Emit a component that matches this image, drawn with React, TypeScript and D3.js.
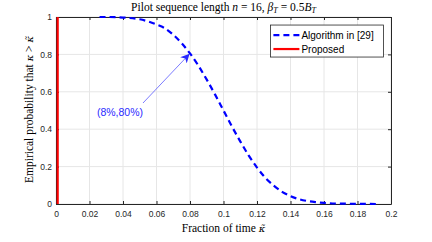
import React, { useEffect, useRef } from 'react';
import * as d3 from 'd3';

// values
const algoX = [0.026, 0.03, 0.04, 0.05, 0.06, 0.065, 0.07, 0.075, 0.08, 0.085, 0.09, 0.095, 0.1, 0.105, 0.11, 0.115, 0.12, 0.125, 0.13, 0.135, 0.14, 0.145, 0.15, 0.155, 0.16, 0.17, 0.18, 0.192];
const algoY = [1, 1, 0.997, 0.988, 0.96, 0.94, 0.905, 0.86, 0.805, 0.74, 0.665, 0.585, 0.5, 0.415, 0.335, 0.26, 0.195, 0.14, 0.098, 0.065, 0.042, 0.026, 0.016, 0.01, 0.006, 0.002, 0.001, 0];
const propX = [0.001, 0.001];
const propY = [0, 1];
const xTicks = [0, 0.02, 0.04, 0.06, 0.08, 0.1, 0.12, 0.14, 0.16, 0.18, 0.2];
const yTicks = [0, 0.2, 0.4, 0.6, 0.8, 1];
const legendLabels = ['Algorithm in [29]', 'Proposed'];
const annotPoint = [0.08, 0.805];
const annotText = '(8%,80%)';

const W = 432;
const H = 242;
const serif = '"Liberation Serif", "DejaVu Serif", serif';
const mathFont = '"DejaVu Serif", serif';
const sans = '"Liberation Sans", Arial, sans-serif';

const App = () => {
  const ref = useRef<SVGSVGElement | null>(null);

  useEffect(() => {
    if (!ref.current) return;
    const svg = d3.select(ref.current);
    svg.selectAll('*').remove();

    const margin = { top: 17, right: 41, bottom: 38, left: 56 };
    const width = W - margin.left - margin.right;
    const height = H - margin.top - margin.bottom;

    const x = d3.scaleLinear().domain([0, 0.2]).range([0, width]);
    const y = d3.scaleLinear().domain([0, 1]).range([height, 0]);

    const defs = svg.append('defs');
    defs.append('marker')
      .attr('id', 'arrow')
      .attr('viewBox', '0 0 10 10')
      .attr('refX', 9)
      .attr('refY', 5)
      .attr('markerWidth', 9)
      .attr('markerHeight', 9)
      .attr('markerUnits', 'userSpaceOnUse')
      .attr('orient', 'auto')
      .append('path')
      .attr('d', 'M0,0 L10,5 L0,10 L3,5 Z')
      .attr('fill', '#2a2aff');

    const g = svg.append('g').attr('transform', `translate(${margin.left},${margin.top})`);

    // grid
    g.append('g').selectAll('line').data(xTicks).join('line')
      .attr('x1', d => x(d)).attr('x2', d => x(d))
      .attr('y1', 0).attr('y2', height)
      .attr('stroke', '#e6e6e6').attr('stroke-width', 1);
    g.append('g').selectAll('line').data(yTicks).join('line')
      .attr('x1', 0).attr('x2', width)
      .attr('y1', d => y(d)).attr('y2', d => y(d))
      .attr('stroke', '#e6e6e6').attr('stroke-width', 1);

    // axes (box with inward ticks)
    const axisColor = '#262626';
    const tl = 3;
    const xAxis = d3.axisBottom(x).tickValues(xTicks).tickSizeInner(-tl).tickSizeOuter(0)
      .tickFormat(d => String(d));
    const yAxis = d3.axisLeft(y).tickValues(yTicks).tickSizeInner(-tl).tickSizeOuter(0)
      .tickFormat(d => String(d));
    const gx = g.append('g').attr('transform', `translate(0,${height})`).call(xAxis);
    const gy = g.append('g').call(yAxis);
    g.append('g').call(d3.axisTop(x).tickValues(xTicks).tickSizeInner(-tl).tickSizeOuter(0).tickFormat(() => ''));
    g.append('g').attr('transform', `translate(${width},0)`)
      .call(d3.axisRight(y).tickValues(yTicks).tickSizeInner(-tl).tickSizeOuter(0).tickFormat(() => ''));
    g.selectAll('.domain').attr('stroke', axisColor).attr('stroke-width', 1);
    g.selectAll('.tick line').attr('stroke', axisColor);
    gx.selectAll('text').attr('font-family', sans).attr('font-size', 8.5).attr('fill', axisColor).attr('dy', '1.15em');
    gy.selectAll('text').attr('font-family', sans).attr('font-size', 8.5).attr('fill', axisColor).attr('x', -4);

    // series
    const algo = algoX.map((v, i) => [v, algoY[i]] as [number, number]);
    const prop = propX.map((v, i) => [v, propY[i]] as [number, number]);
    const ln = d3.line<[number, number]>().x(d => x(d[0])).y(d => y(d[1])).curve(d3.curveMonotoneX);

    g.append('path').datum(algo)
      .attr('fill', 'none').attr('stroke', '#0000ff').attr('stroke-width', 2.2)
      .attr('stroke-dasharray', '6,4')
      .attr('d', ln);
    g.append('path').datum(prop)
      .attr('fill', 'none').attr('stroke', '#ff0000').attr('stroke-width', 2.2)
      .attr('d', d3.line<[number, number]>().x(d => x(d[0])).y(d => y(d[1])));

    // annotation
    const ax = x(annotPoint[0]);
    const ay = y(annotPoint[1]);
    g.append('line')
      .attr('x1', 87).attr('y1', 86)
      .attr('x2', ax - 1).attr('y2', ay + 1)
      .attr('stroke', '#5a5aff').attr('stroke-width', 0.8)
      .attr('marker-end', 'url(#arrow)');
    g.append('text')
      .attr('x', 64).attr('y', 99)
      .attr('text-anchor', 'middle')
      .attr('font-family', sans).attr('font-size', 10.5)
      .attr('fill', '#2a2aff')
      .text(annotText);

    // legend
    const lg = g.append('g').attr('transform', `translate(${x(0.128)},${y(0.957)})`);
    lg.append('rect').attr('width', 113).attr('height', 32)
      .attr('fill', '#fff').attr('stroke', axisColor).attr('stroke-width', 0.8);
    const colors = ['#0000ff', '#ff0000'];
    legendLabels.forEach((lab, i) => {
      const yy = 10 + i * 14;
      lg.append('line')
        .attr('x1', 3).attr('x2', 29).attr('y1', yy).attr('y2', yy)
        .attr('stroke', colors[i]).attr('stroke-width', 2.2)
        .attr('stroke-dasharray', i === 0 ? '6,4' : null);
      lg.append('text')
        .attr('x', 31).attr('y', yy + 3.6)
        .attr('font-family', sans).attr('font-size', 10)
        .attr('fill', '#000')
        .text(lab);
    });

    // title
    const t = svg.append('text')
      .attr('x', margin.left + width / 2).attr('y', 11)
      .attr('text-anchor', 'middle')
      .attr('font-family', serif).attr('font-size', 11.5).attr('fill', '#000');
    t.append('tspan').text('Pilot sequence length ');
    t.append('tspan').attr('font-style', 'italic').text('n');
    t.append('tspan').text(' = 16, ');
    t.append('tspan').attr('font-style', 'italic').text('β');
    t.append('tspan').attr('font-style', 'italic').attr('font-size', 8).attr('dy', 2).text('T');
    t.append('tspan').attr('dy', -2).text(' = 0.5');
    t.append('tspan').attr('font-style', 'italic').text('B');
    t.append('tspan').attr('font-style', 'italic').attr('font-size', 8).attr('dy', 2).text('T');

    // x label
    const xl = svg.append('text')
      .attr('x', margin.left + width / 2).attr('y', 232)
      .attr('text-anchor', 'middle')
      .attr('font-family', serif).attr('font-size', 11.5).attr('fill', '#000');
    xl.append('tspan').text('Fraction of time ');
    xl.append('tspan').attr('font-family', mathFont).attr('font-style', 'italic').attr('font-size', 10).text('κ̃');

    // y label
    const yl = svg.append('text')
      .attr('transform', `translate(33,${margin.top + height / 2 - 1}) rotate(-90)`)
      .attr('text-anchor', 'middle')
      .attr('font-family', serif).attr('font-size', 11.5).attr('fill', '#000');
    yl.append('tspan').text('Empirical probability that ');
    yl.append('tspan').attr('font-family', mathFont).attr('font-style', 'italic').attr('font-size', 10).text('κ');
    yl.append('tspan').text(' > ');
    yl.append('tspan').attr('font-family', mathFont).attr('font-style', 'italic').attr('font-size', 10).text('κ̃');
  }, []);

  return (
    <div style={{ position: 'fixed', left: 0, top: 0, width: W, height: H, background: '#fff' }}>
      <svg ref={ref} width={W} height={H} style={{ display: 'block' }} />
    </div>
  );
};

export default App;
